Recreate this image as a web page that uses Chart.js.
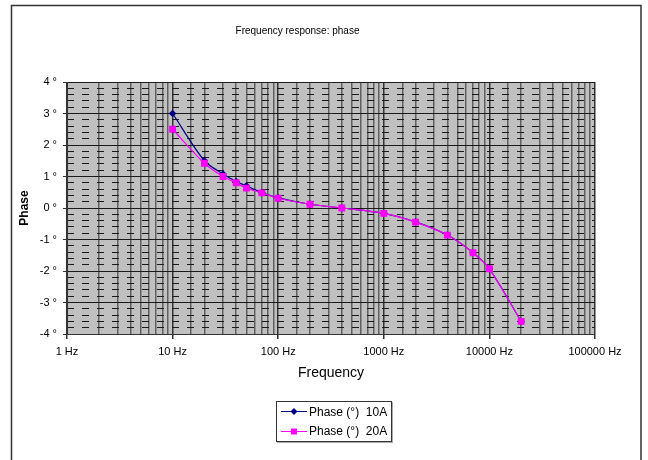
<!DOCTYPE html>
<html lang="en">
<head>
<meta charset="UTF-8">
<title>Frequency response: phase</title>
<style>
  body { margin: 0; background: #fff; }
  #wrap { position: relative; width: 648px; height: 460px; }
  #legend {
    position: absolute; left: 276px; top: 401px; width: 114px; height: 39px;
    border: 1px solid #333; box-shadow: 1px 1px 0 #aaa; background: #fff;
    font: 12px "Liberation Sans", Arial, sans-serif; color: #000;
  }
  .item { display: flex; align-items: center; height: 19.5px; padding-left: 4px; white-space: pre; }
  .item svg { margin-right: 2px; }
</style>
</head>
<body>
<div id="wrap">
  <canvas id="myChart" width="648" height="460"></canvas>
  <div id="legend"></div>
</div>

<script src="https://cdn.jsdelivr.net/npm/chart.js"></script>
<script>
// values
const freqs    = [10, 20, 30, 40, 50, 70, 100, 200, 400, 1000, 2000, 4000, 7000, 10000, 20000];
const phase10A = [3.0, 1.5, 1.08, 0.84, 0.70, 0.49, 0.32, 0.12, 0.0, -0.17, -0.44, -0.86, -1.42, -1.93, -3.6];
const phase20A = [2.5, 1.42, 1.0, 0.80, 0.63, 0.48, 0.31, 0.12, 0.0, -0.17, -0.45, -0.86, -1.42, -1.93, -3.6];
const seriesNames = ['Phase (°)  10A', 'Phase (°)  20A'];

const FONT = '"Liberation Sans", Arial, sans-serif';

function isDecade(v) {
  const l = Math.log10(v);
  return Math.abs(l - Math.round(l)) < 1e-9;
}
function isWhole(v) {
  return Math.abs(v - Math.round(v)) < 1e-6;
}

const plotBg = {
  id: 'plotBg',
  beforeDraw(chart) {
    const {ctx, chartArea: a} = chart;
    ctx.save();
    ctx.fillStyle = '#fff';
    ctx.fillRect(0, 0, chart.width, chart.height);
    ctx.fillStyle = '#c0c0c0';
    ctx.fillRect(a.left, a.top, a.right - a.left, a.bottom - a.top);
    ctx.strokeStyle = '#333';
    ctx.lineWidth = 1.5;
    ctx.strokeRect(11.5, 5.5, 629.5, 470);
    ctx.restore();
  }
};

const ctx = document.getElementById('myChart');

const chart = new Chart(ctx, {
  type: 'line',
  data: {
    datasets: [{
      label: seriesNames[0],
      data: freqs.map((f, i) => ({x: f, y: phase10A[i]})),
      borderColor: '#000080',
      backgroundColor: '#000080',
      borderWidth: 1.2,
      pointStyle: 'rectRot',
      pointRadius: 3,
      tension: 0.3,
      order: 1
    }, {
      label: seriesNames[1],
      data: freqs.map((f, i) => ({x: f, y: phase20A[i]})),
      borderColor: '#ff00ff',
      backgroundColor: '#ff00ff',
      borderWidth: 1.2,
      pointStyle: 'rect',
      pointRadius: 4,
      tension: 0.3,
      order: 0
    }]
  },
  options: {
    responsive: false,
    animation: false,
    layout: { padding: { top: 0, right: 53, bottom: 66, left: 0 } },
    scales: {
      x: {
        type: 'logarithmic',
        min: 1,
        max: 100000,
        afterFit: s => { s.height = 60; },
        grid: {
          color: c => isDecade(c.tick.value) ? '#333' : '#606060',
          lineWidth: 1.5,
          tickLength: 5,
          tickColor: c => isDecade(c.tick.value) ? '#333' : 'rgba(0,0,0,0)'
        },
        border: { color: '#333' },
        ticks: {
          autoSkip: false,
          maxRotation: 0,
          padding: 6,
          color: '#000',
          font: { family: FONT, size: 11 },
          callback: v => isDecade(v) ? v + ' Hz' : ''
        },
        title: {
          display: true,
          text: 'Frequency',
          color: '#000',
          font: { family: FONT, size: 14 },
          padding: { top: 0, bottom: 12 }
        }
      },
      y: {
        min: -4,
        max: 4,
        afterFit: s => { s.width = 67; },
        grid: { color: '#1a1a1a', lineWidth: 1, tickLength: 4, tickColor: '#333' },
        border: { color: '#333' },
        ticks: {
          stepSize: 1,
          padding: 6,
          color: '#000',
          font: { family: FONT, size: 11 },
          callback: v => v + ' °'
        },
        title: {
          display: true,
          text: 'Phase',
          color: '#000',
          font: { family: FONT, size: 12, weight: 'bold' },
          padding: { top: 17, bottom: 0 }
        }
      },
      y2: {
        position: 'right',
        min: -4,
        max: 4,
        afterFit: s => { s.width = 0; },
        grid: {
          color: c => isWhole(c.tick.value) ? 'rgba(0,0,0,0)' : '#1a1a1a',
          lineWidth: 1,
          drawTicks: false,
          borderDash: [7, 8]
        },
        border: { display: false, dash: [7, 8] },
        ticks: { display: false, stepSize: 0.2, autoSkip: false }
      }
    },
    plugins: {
      legend: { display: false },
      tooltip: { enabled: false },
      title: {
        display: true,
        text: 'Frequency response: phase',
        color: '#000',
        font: { family: FONT, size: 10, weight: 'normal' },
        padding: { top: 25, bottom: 45 }
      }
    }
  },
  plugins: [plotBg]
});

// html legend built from the datasets
const legendEl = document.getElementById('legend');
chart.data.datasets.forEach(ds => {
  const c = ds.borderColor;
  const marker = ds.pointStyle === 'rect'
    ? `<rect x="10" y="6.5" width="6" height="6" fill="${c}"/>`
    : `<polygon points="13,6 16.5,9.5 13,13 9.5,9.5" fill="${c}"/>`;
  const row = document.createElement('div');
  row.className = 'item';
  row.innerHTML = `<svg width="26" height="19"><line x1="0" y1="9.5" x2="26" y2="9.5" stroke="${c}" stroke-width="1"/>${marker}</svg><span>${ds.label}</span>`;
  legendEl.appendChild(row);
});
</script>
</body>
</html>
